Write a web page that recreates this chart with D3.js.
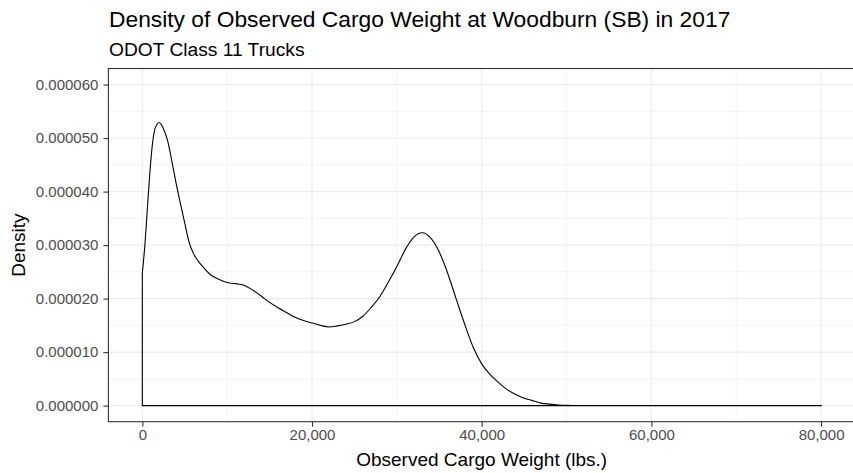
<!DOCTYPE html>
<html><head><meta charset="utf-8">
<script src="https://cdn.jsdelivr.net/npm/d3@7"></script>
<style>body{margin:0;background:#fff;} svg{display:block;font-family:"Liberation Sans",Arial,sans-serif;}</style>
</head><body>
<svg id="chart" width="853" height="473"></svg>
<script>
// Data
const weights = [0,300,600,900,1200,1500,2000,2500,3000,3500,4000,4500,5000,5500,6000,6500,7000,8000,9000,10000,11000,12000,13000,14000,15000,16000,17000,18000,19000,20000,21000,22000,23000,24000,25000,26000,27000,28000,29000,30000,31000,32000,33000,34000,35000,36000,37000,38000,39000,40000,41000,42000,43000,44000,45000,46000,47000,48000,49000,50000,52000,55000,60000,65000,70000,75000,80000];
const densities = [2.48e-5,3.00e-5,3.70e-5,4.38e-5,4.90e-5,5.18e-5,5.29e-5,5.17e-5,4.94e-5,4.55e-5,4.14e-5,3.77e-5,3.41e-5,3.06e-5,2.85e-5,2.72e-5,2.62e-5,2.45e-5,2.36e-5,2.30e-5,2.28e-5,2.25e-5,2.16e-5,2.05e-5,1.93e-5,1.83e-5,1.74e-5,1.65e-5,1.59e-5,1.545e-5,1.50e-5,1.47e-5,1.49e-5,1.52e-5,1.57e-5,1.67e-5,1.84e-5,2.04e-5,2.31e-5,2.60e-5,2.92e-5,3.15e-5,3.23e-5,3.13e-5,2.87e-5,2.47e-5,1.99e-5,1.52e-5,1.09e-5,0.78e-5,0.58e-5,0.43e-5,0.30e-5,0.21e-5,0.14e-5,0.094e-5,0.047e-5,0.028e-5,0.013e-5,0.005e-5,0.001e-5,0,0,0,0,0,0];
const xTicks = [0,20000,40000,60000,80000];
const xMinor = [10000,30000,50000,70000];
const yTicks = [0,0.00001,0.00002,0.00003,0.00004,0.00005,0.00006];
const yMinor = [0.000005,0.000015,0.000025,0.000035,0.000045,0.000055];
const title = "Density of Observed Cargo Weight at Woodburn (SB) in 2017";
const subtitle = "ODOT Class 11 Trucks";
const xLabel = "Observed Cargo Weight (lbs.)";
const yLabel = "Density";

const svg = d3.select("#chart");
const L = 108.4, R = 855, T = 68.5, B = 421.7;
const x = d3.scaleLinear().domain([-4000, 84000]).range([L, R]);
const y = d3.scaleLinear().domain([-0.000003, 0.000063]).range([B, T]);

const g = svg.append("g");
// minor grid
g.selectAll(".xm").data(xMinor).enter().append("line")
  .attr("x1", d=>x(d)).attr("x2", d=>x(d)).attr("y1", T).attr("y2", B)
  .attr("stroke", "#EBEBEB").attr("stroke-width", 0.6);
g.selectAll(".ym").data(yMinor).enter().append("line")
  .attr("y1", d=>y(d)).attr("y2", d=>y(d)).attr("x1", L).attr("x2", R)
  .attr("stroke", "#EBEBEB").attr("stroke-width", 0.6);
// major grid
g.selectAll(".xM").data(xTicks).enter().append("line")
  .attr("x1", d=>x(d)).attr("x2", d=>x(d)).attr("y1", T).attr("y2", B)
  .attr("stroke", "#EBEBEB").attr("stroke-width", 1.1);
g.selectAll(".yM").data(yTicks).enter().append("line")
  .attr("y1", d=>y(d)).attr("y2", d=>y(d)).attr("x1", L).attr("x2", R)
  .attr("stroke", "#EBEBEB").attr("stroke-width", 1.1);

// density polygon
const pts = weights.map((w,i)=>[w, densities[i]]);
const line = d3.line().x(d=>x(d[0])).y(d=>y(d[1])).curve(d3.curveMonotoneX);
const pathD = "M" + x(0) + "," + y(0) + "L" + line(pts).slice(1) + "L" + x(80000) + "," + y(0) + "Z";
g.append("path").attr("d", pathD).attr("fill", "none").attr("stroke", "#000").attr("stroke-width", 1.1);

// panel border
g.append("rect").attr("x", L).attr("y", T).attr("width", R-L).attr("height", B-T)
  .attr("fill", "none").attr("stroke", "#333333").attr("stroke-width", 1.1);

// axes
const fmtX = d3.format(",");
const xAxis = d3.axisBottom(x).tickValues(xTicks).tickFormat(d=>fmtX(d)).tickSize(5).tickPadding(3);
const yAxis = d3.axisLeft(y).tickValues(yTicks).tickFormat(d3.format(".6f")).tickSize(5).tickPadding(5);
const gx = svg.append("g").attr("transform", `translate(0,${B})`).call(xAxis);
const gy = svg.append("g").attr("transform", `translate(${L},0)`).call(yAxis);
[gx, gy].forEach(a=>{
  a.select(".domain").remove();
  a.selectAll(".tick line").attr("stroke", "#333333").attr("stroke-width", 1.1);
  a.selectAll(".tick text").attr("fill", "#4D4D4D").style("font-size", "15px").style("font-family", "Liberation Sans, Arial, sans-serif");
});

// titles
svg.append("text").attr("x", 109).attr("y", 27).text(title)
  .style("font-size", "22.8px").attr("fill", "#000");
svg.append("text").attr("x", 109).attr("y", 56).text(subtitle)
  .style("font-size", "19.2px").attr("fill", "#000");
svg.append("text").attr("x", (L+R)/2).attr("y", 466).attr("text-anchor", "middle").text(xLabel)
  .style("font-size", "19px").attr("fill", "#000");
svg.append("text").attr("transform", `translate(25,${(T+B)/2}) rotate(-90)`).attr("text-anchor", "middle").text(yLabel)
  .style("font-size", "19px").attr("fill", "#000");
</script>
</body></html>
